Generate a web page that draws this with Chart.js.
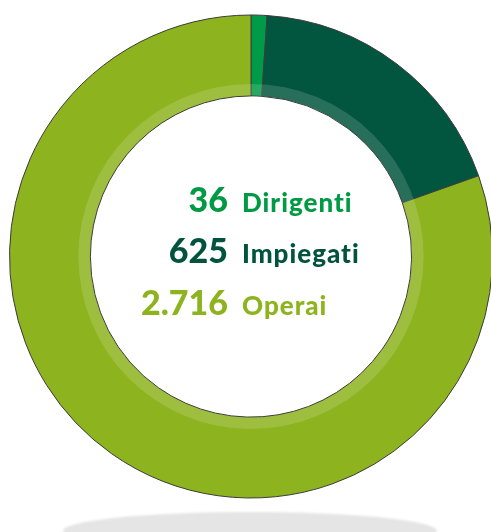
<!DOCTYPE html>
<html lang="it">
<head>
<meta charset="utf-8">
<title>Dipendenti</title>
<script src="https://cdn.jsdelivr.net/npm/chart.js@4/dist/chart.umd.min.js"></script>
<style>
    html, body { margin: 0; padding: 0; background: #fff; overflow: hidden; }
    #wrap { position: relative; width: 491px; height: 532px; }
</style>
</head>
<body>
<div id="wrap"><canvas id="myChart"></canvas></div>
<script>
// headcount by category
const categories = ['Dirigenti', 'Impiegati', 'Operai'];
const headcount = [36, 625, 2716];
const sliceColors = ['#009b48', '#02553f', '#8db31f'];
const textColors = ['#009a44', '#00543e', '#8db31f'];

// 2716 -> "2.716"
function formatIt(n) {
    return String(n).replace(/\B(?=(\d{3})+(?!\d))/g, '.');
}

// grey floor shadow under the ring
const floorShadow = {
    id: 'floorShadow',
    beforeDraw(chart) {
        const ctx = chart.ctx;
        ctx.save();
        ctx.fillStyle = '#e5e5e5';
        ctx.filter = 'blur(1px)';
        ctx.beginPath();
        ctx.ellipse(250, 531, 187, 19, 0, 0, Math.PI * 2);
        ctx.fill();
        ctx.restore();
    }
};

// light band along the inner edge + the three labels in the hole
const innerBand = {
    id: 'innerBand',
    afterDatasetsDraw(chart) {
        const arc = chart.getDatasetMeta(0).data[0];
        if (!arc) return;
        const ctx = chart.ctx;
        const r0 = arc.innerRadius + 0.5;
        const r1 = arc.innerRadius + 12;
        ctx.save();
        ctx.fillStyle = 'rgba(255,255,255,0.15)';
        ctx.beginPath();
        ctx.arc(arc.x, arc.y, r1, 0, Math.PI * 2);
        ctx.arc(arc.x, arc.y, r0, 0, Math.PI * 2, true);
        ctx.fill('evenodd');
        ctx.restore();
    },
    afterDraw(chart) {
        const ctx = chart.ctx;
        const numRight = 228;
        const labelLeft = 242;
        const baselines = [212, 263, 315];
        ctx.save();
        ctx.textBaseline = 'alphabetic';
        categories.forEach((name, i) => {
            ctx.fillStyle = textColors[i];
            ctx.textAlign = 'right';
            ctx.letterSpacing = '0px';
            ctx.font = '900 34px Lato';
            ctx.fillText(formatIt(headcount[i]), numRight, baselines[i]);
            ctx.textAlign = 'left';
            ctx.letterSpacing = '1px';
            ctx.font = '900 26px Lato';
            ctx.fillText(name, labelLeft, baselines[i]);
        });
        ctx.restore();
    }
};

const ctx = document.getElementById('myChart').getContext('2d');
const chart = new Chart(ctx, {
    type: 'doughnut',
    data: {
        labels: categories,
        datasets: [{
            data: headcount,
            backgroundColor: sliceColors,
            borderColor: '#3c3c3c',
            borderWidth: 1,
            hoverOffset: 0
        }]
    },
    options: {
        responsive: true,
        maintainAspectRatio: false,
        animation: false,
        radius: 241.5,
        cutout: '66.5%',
        layout: { padding: { left: 11, right: 0, top: 0, bottom: 19 } },
        plugins: {
            legend: { display: false },
            tooltip: { enabled: false }
        }
    },
    plugins: [floorShadow, innerBand]
});
</script>
</body>
</html>
